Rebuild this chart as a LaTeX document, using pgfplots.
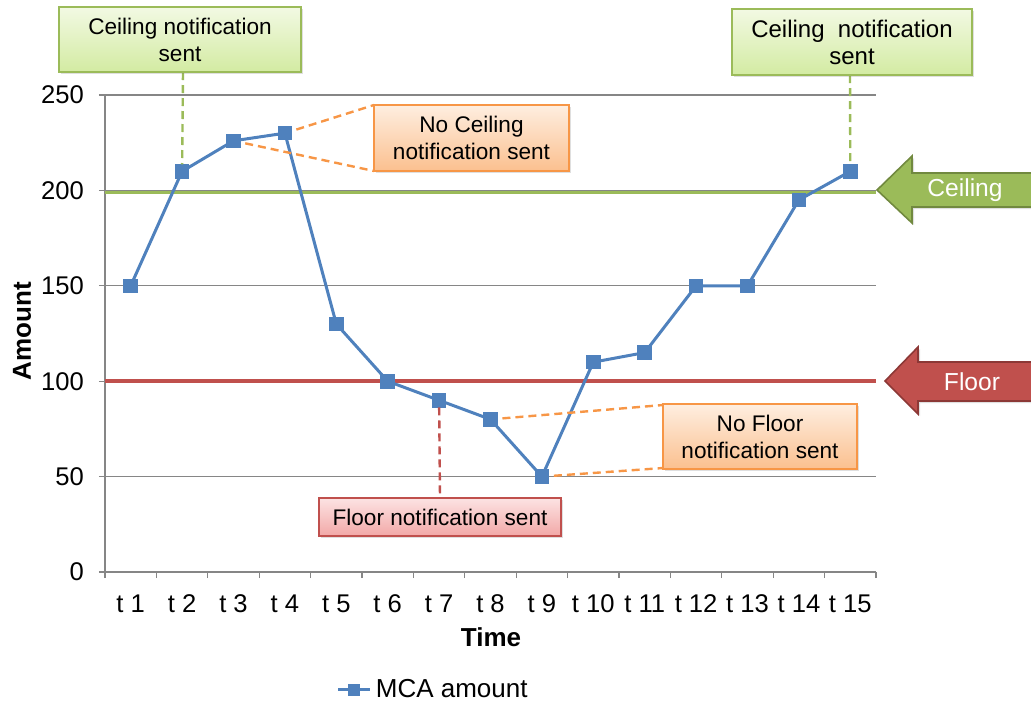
\documentclass[border=0pt]{standalone}
\usepackage{pgfplots}
\pgfplotsset{compat=1.18}
\usepackage{fontspec}
\setmainfont{Liberation Sans}
\usetikzlibrary{shadows}
\definecolor{mblue}{HTML}{4F81BD}
\definecolor{mgreen}{HTML}{9BBB59}
\definecolor{dgreen}{HTML}{71893F}
\definecolor{mred}{HTML}{C0504D}
\definecolor{dred}{HTML}{8C3836}
\definecolor{morange}{HTML}{F79646}
\definecolor{axgray}{HTML}{868686}
\definecolor{gtop}{HTML}{F2F9E3}
\definecolor{gbot}{HTML}{D3EBA2}
\definecolor{otop}{HTML}{FEEEE0}
\definecolor{obot}{HTML}{FBC08F}
\definecolor{rtop}{HTML}{FCE3E3}
\definecolor{rbot}{HTML}{F2A8A7}
\begin{document}
\begin{tikzpicture}
\path[use as bounding box] (0,0) rectangle (515.5pt,-351.5pt);
\begin{axis}[
  at={(52.5pt,-286pt)}, anchor=south west,
  scale only axis, width=385.5pt, height=238.5pt,
  xmin=0.5, xmax=15.5, ymin=0, ymax=250,
  axis lines*=left,
  axis line style={draw=axgray, line width=0.6pt},
  xtick={1,...,15},
  xticklabels={t 1,t 2,t 3,t 4,t 5,t 6,t 7,t 8,t 9,t 10,t 11,t 12,t 13,t 14,t 15},
  minor xtick={0.5,1.5,...,15.5},
  ytick={0,50,...,250},
  tick align=outside,
  major tick length=3pt, minor tick length=3pt,
  major x tick style={draw=none},
  minor x tick style={draw=axgray, line width=0.6pt},
  major y tick style={draw=axgray, line width=0.6pt},
  ymajorgrids, y grid style={draw=axgray, line width=0.6pt},
  /pgf/number format/assume math mode=true,
  tick label style={font=\fontsize{12.8}{14}\selectfont, text=black},
  xticklabel style={yshift=-5pt},
  yticklabel style={xshift=-4pt},
  clip=false,
  legend style={at={(0.427,-0.247)}, anchor=center, draw=none, fill=none,
    font=\fontsize{13}{15}\selectfont},
  legend image code/.code={\draw[mark repeat=2,mark phase=2, mark size=2.2pt] plot coordinates {(0pt,0pt) (8pt,0pt) (16pt,0pt)};},
]
\addplot[forget plot, draw=mgreen, line width=1.5pt] coordinates {(0.5,199) (15.5,199)};
\addplot[forget plot, draw=mred, line width=2pt] coordinates {(0.5,100) (15.5,100)};
\addplot[mblue, line width=1.5pt, mark=square*, mark size=2.9pt, mark options={fill=mblue, draw=mblue}] coordinates {
(1,150) (2,210) (3,226) (4,230) (5,130) (6,100) (7,90) (8,80) (9,50) (10,110) (11,115) (12,150) (13,150) (14,195) (15,210)};
\addlegendentry{MCA amount}
\coordinate (p2) at (axis cs:2,210);
\coordinate (p3) at (axis cs:3,226);
\coordinate (p4) at (axis cs:4,230);
\coordinate (p7) at (axis cs:7,90);
\coordinate (p8) at (axis cs:8,80);
\coordinate (p9) at (axis cs:9,50);
\coordinate (p15) at (axis cs:15,210);
\end{axis}
\begin{scope}[x=0.5pt, y=-0.5pt]
% axis titles
\node[rotate=90, font=\bfseries\fontsize{13}{15}\selectfont] at (22,331) {Amount};
\node[font=\bfseries\fontsize{13}{15}\selectfont] at (491,637) {Time};
% connectors
\tikzset{conn/.style={line width=1.2pt, dash pattern=on 4pt off 2.5pt}}
\draw[mgreen, conn, shorten >=3.5pt] (183,72) -- (p2);
\draw[mgreen, conn, shorten >=3.5pt] (850,75) -- (p15);
\draw[morange, conn, shorten <=6pt] (p4) -- (374,105);
\draw[morange, conn, shorten <=6pt] (p3) -- (374,171);
\draw[morange, conn, shorten <=6pt] (p8) -- (663,405);
\draw[morange, conn, shorten <=6pt] (p9) -- (663,468);
\draw[mred, conn, shorten <=3.5pt] (p7) -- (440,498);
% boxes
\tikzset{abox/.style={inner sep=0pt, align=center, line width=0.8pt,
  drop shadow={opacity=0.25, shadow xshift=1pt, shadow yshift=-1pt},
  font=\fontsize{11.3}{13.5}\selectfont}}
\node[abox, draw=mgreen, top color=gtop, bottom color=gbot, minimum width=121pt, minimum height=32.5pt] at (180,39.5) {Ceiling notification\\sent};
\node[abox, draw=mgreen, top color=gtop, bottom color=gbot, minimum width=120pt, minimum height=33pt, font=\fontsize{12}{13.5}\selectfont] at (852,42) {Ceiling\ \ notification\\sent};
\node[abox, draw=morange, top color=otop, bottom color=obot, minimum width=97.5pt, minimum height=33pt] at (471.5,138) {No Ceiling\\notification sent};
\node[abox, draw=morange, top color=otop, bottom color=obot, minimum width=97pt, minimum height=32.5pt] at (760,436.5) {No Floor\\notification sent};
\node[abox, draw=mred, top color=rtop, bottom color=rbot, minimum width=121pt, minimum height=19pt] at (440,517) {Floor notification sent};
% arrows
\filldraw[fill=mgreen, draw=dgreen, line width=0.8pt, drop shadow={opacity=0.25, shadow xshift=1pt, shadow yshift=-1pt}]
  (877,190) -- (912,156) -- (912,173) -- (1045,173) -- (1045,207) -- (912,207) -- (912,223) -- cycle;
\node[text=white, font=\fontsize{12.3}{14}\selectfont] at (965,190) {Ceiling};
\filldraw[fill=mred, draw=dred, line width=0.8pt, drop shadow={opacity=0.25, shadow xshift=1pt, shadow yshift=-1pt}]
  (885,381) -- (918,347) -- (918,362) -- (1045,362) -- (1045,401) -- (918,401) -- (918,414) -- cycle;
\node[text=white, font=\fontsize{12.3}{14}\selectfont] at (972,382) {Floor};
\end{scope}
\end{tikzpicture}
\end{document}
